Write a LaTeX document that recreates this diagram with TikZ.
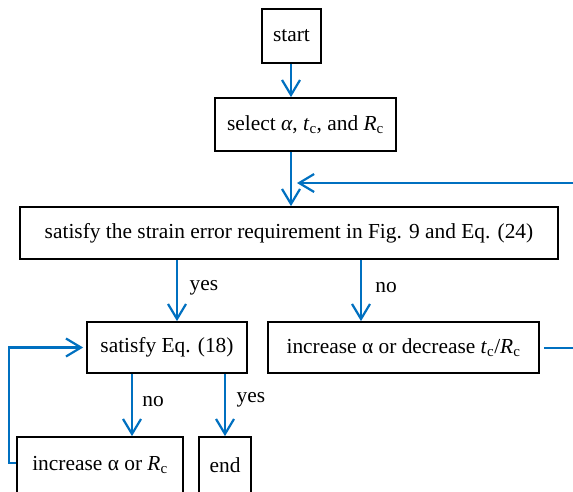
\documentclass[tikz,border=0pt]{standalone}
\usepackage{fontspec}
\setmainfont{Liberation Serif}
\usetikzlibrary{arrows.meta,calc}
\definecolor{flowblue}{RGB}{0,112,192}
\begin{document}
\begin{tikzpicture}[x=1pt,y=-1pt,
  font=\fontsize{21.4}{26}\selectfont,
  box/.style={draw=black,line width=1.8pt,inner sep=0pt,align=center},
  arr/.style={draw=flowblue,line width=2.2pt,-{Straight Barb[length=15pt,width=18pt]}},
  ln/.style={draw=flowblue,line width=2.2pt},
  lab/.style={inner sep=0pt}]
\useasboundingbox (0,0) rectangle (573,491);
\node[box,minimum width=59pt,minimum height=54pt] (start) at (291.5,36) {start};
\node[box,minimum width=181pt,minimum height=53pt] (select) at (305.5,124.5)
  {select \textit{α}, \textit{t}\textsubscript{c}, and \textit{R}\textsubscript{c}};
\node[box,minimum width=538pt,minimum height=52pt] (big) at (289,233)
  {satisfy the strain error requirement in Fig. 9 and Eq. (24)};
\node[box,minimum width=160pt,minimum height=51pt] (sat) at (167,347.5) {satisfy Eq. (18)};
\node[box,minimum width=271pt,minimum height=51pt] (incR) at (403.5,347.5)
  {increase α or decrease \textit{t}\textsubscript{c}/\textit{R}\textsubscript{c}};
\node[box,minimum width=166pt,minimum height=56pt] (incL) at (100,465)
  {increase α or \textit{R}\textsubscript{c}};
\node[box,minimum width=52pt,minimum height=56pt] (end) at (225,465) {end};

\coordinate (rt) at (573,183);
\coordinate (rb) at (573,348);
\coordinate (lb) at (9,463);
\coordinate (lt) at (9,347.5);

\draw[arr] (start.south -| 291,0) -- (select.north -| 291,0);
\draw[arr] (select.south -| 291,0) -- (big.north -| 291,0);
\draw[arr] (rt) -- (297,183);
\draw[arr] (big.south -| 177,0) -- (sat.north -| 177,0);
\draw[arr] (big.south -| 361,0) -- (incR.north -| 361,0);
\draw[arr] (sat.south -| 132,0) -- (incL.north -| 132,0);
\draw[arr] (sat.south -| end.north) -- (end.north);
\draw[ln,shorten <=4pt] (incR.east |- rb) -- (rb);
\draw[arr,shorten >=3pt] (incL.west |- lb) -- (lb) -- (lt) -- (sat.west);

\node[lab] (y1) at (204,288) {yes};
\node[lab] (n1) at (386,288) {no};
\node[lab] (n2) at (153,402) {no};
\node[lab] (y2) at (251,400) {yes};
\end{tikzpicture}
\end{document}
